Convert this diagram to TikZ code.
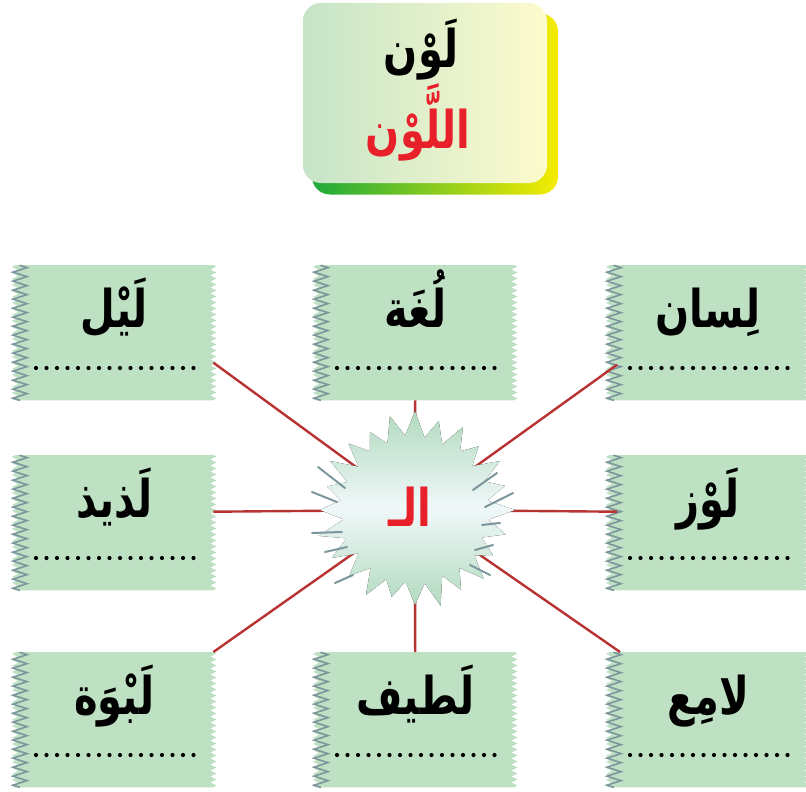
\documentclass[tikz,border=0pt]{standalone}
\usepackage{fontspec}
\usepackage{graphicx}
\usetikzlibrary{decorations.pathmorphing}
\newfontfamily\arabicfont[Script=Arabic]{DejaVu Sans}
\TeXXeTstate=1
\definecolor{boxgreen}{RGB}{190,225,195}
\definecolor{edgegray}{RGB}{125,150,155}
\definecolor{linkred}{RGB}{185,50,50}
\definecolor{wordred}{RGB}{232,32,42}
\definecolor{stargreen}{RGB}{178,218,190}
\definecolor{starmid}{RGB}{240,248,250}
\definecolor{tlgreen}{RGB}{198,228,200}
\definecolor{tlyellow}{RGB}{253,251,205}
\definecolor{shgreen}{RGB}{30,170,60}
\definecolor{shyellow}{RGB}{245,236,0}
\tikzset{
  wordbox/.style={minimum width=198pt, minimum height=135pt, inner sep=0pt, anchor=north west},
  word/.style={font=\arabicfont\bfseries\fontsize{40}{46}\selectfont, inner sep=0pt, anchor=base},
  titleword/.style={font=\arabicfont\bfseries\fontsize{40}{46}\selectfont, inner sep=0pt, anchor=base},
  dotrow/.style={line width=4.2pt, line cap=round, dash pattern=on 0pt off 10.5pt},
  link/.style={draw=linkred, line width=2.4pt},
  jag/.style={decoration={zigzag,segment length=6pt,amplitude=3pt}},
  grayedge/.style={draw=edgegray, line width=1.6pt, decorate, decoration={zigzag,segment length=9pt,amplitude=7pt}},
  spark/.style={draw=edgegray, line width=2pt, line cap=round},
}
\newcommand\tallword[1]{\scalebox{1}[1.3]{\beginR #1\endR}}
\newcommand\mkbox[4]{%
  \node[wordbox] (#1) at (#2,#3) {};
  \fill[boxgreen] (#1.north west) -- (#1.north east) decorate[jag]{-- (#1.south east)} -- (#1.south west) decorate[jag]{-- (#1.north west)} -- cycle;
  \draw[grayedge] ([xshift=5pt]#1.south west) -- ([xshift=5pt]#1.north west);
  \node[word] (#1w) at ([yshift=-62pt]#1.north) {\tallword{#4}};
  \draw[dotrow] ([xshift=21pt,yshift=-103pt]#1.north west) -- ([xshift=-10pt,yshift=-103pt]#1.north east);
}
\begin{document}
\begin{tikzpicture}[x=1pt,y=-1pt]
\useasboundingbox (0,0) rectangle (806,792);
% title box
\node[minimum width=246pt, minimum height=181pt, rounded corners=18pt, inner sep=0pt,
      left color=shgreen, right color=shyellow] (tshadow) at (435,104) {};
\node[minimum width=244pt, minimum height=180pt, rounded corners=18pt, inner sep=0pt,
      left color=tlgreen, right color=tlyellow] (title) at (425,93) {};
\node[titleword] (t1) at (421,68) {\tallword{لَوْن}};
\node[titleword, text=wordred] (t2) at (418,148) {\tallword{اللَّوْن}};
% word boxes
\mkbox{b1}{15}{265}{لَيْل}
\mkbox{b2}{316}{265}{لُغَة}
\mkbox{b3}{609}{265}{لِسان}
\mkbox{b4}{15}{455}{لَذيذ}
\mkbox{b5}{609}{455}{لَوْز}
\mkbox{b6}{15}{652}{لَبْوَة}
\mkbox{b7}{316}{652}{لَطيف}
\mkbox{b8}{609}{652}{لامِع}
% connectors
\coordinate (star) at (415,510);
\draw[link] ([yshift=-30pt]b1.east) -- (star);
\draw[link] (b2.south) -- (star);
\draw[link] ([xshift=8pt,yshift=-32pt]b3.west) -- (star);
\draw[link] ([yshift=11pt]b4.east) -- (star);
\draw[link] ([xshift=8pt,yshift=11pt]b5.west) -- (star);
\draw[link] (b6.north east) -- (star);
\draw[link] (b7.north) -- (star);
\draw[link] ([xshift=11pt]b8.north west) -- (star);
% starburst
\begin{scope}[shift={(415,510)}]
\fill[top color=stargreen, bottom color=stargreen, middle color=starmid]
  (0:100) \foreach \a/\r in {7.5/74,15/94,22.5/72,30/90,37.5/75,45/97,52.5/73,60/92,67.5/71,75/99,82.5/74,90/95,97.5/72,105/90,112.5/75,120/98,127.5/73,135/93,142.5/71,150/96,157.5/74,165/100,172.5/72,180/95,187.5/75,195/91,202.5/73,210/98,217.5/71,225/94,232.5/74,240/90,247.5/72,255/97,262.5/75,270/99,277.5/73,285/92,292.5/71,300/96,307.5/74,315/90,322.5/72,330/98,337.5/75,345/93,352.5/73} {-- (\a:\r)} -- cycle;
\end{scope}
\draw[spark] (318,467) -- (345,488);
\draw[spark] (312,492) -- (337,502);
\draw[spark] (312,533) -- (342,532);
\draw[spark] (325,552) -- (347,547);
\draw[spark] (335,583) -- (353,575);
\draw[spark] (497,473) -- (473,490);
\draw[spark] (513,493) -- (485,507);
\draw[spark] (500,523) -- (482,525);
\draw[spark] (493,545) -- (475,550);
\draw[spark] (490,575) -- (470,565);
\node[word, text=wordred] (al) at (410,526) {\tallword{الـ}};
\end{tikzpicture}
\end{document}
